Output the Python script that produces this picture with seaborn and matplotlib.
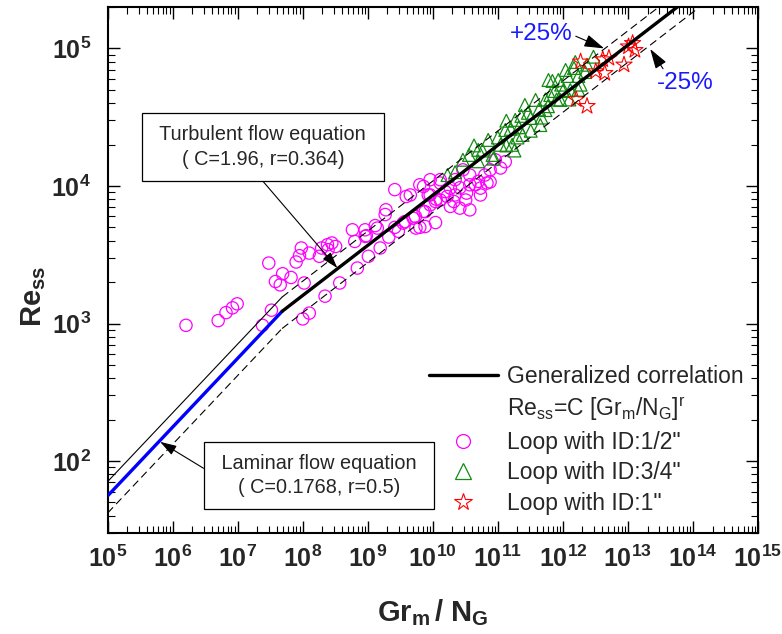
import numpy as np
import pandas as pd
import matplotlib
matplotlib.use("Agg")
import matplotlib.pyplot as plt
import seaborn as sns
from matplotlib.lines import Line2D
from matplotlib.ticker import LogLocator, NullFormatter

# ---- values ----
# Loop with ID 1/2" (magenta circles)
gr_half = [1.6e6, 5.0e6, 6.6e6, 8.3e6, 9.8e6, 3.0e7, 2.4e7, 3.3e7, 3.8e7, 4.5e7,
           4.9e7, 6.6e7, 7.9e7, 8.9e7, 9.5e7, 1.05e8, 1.0e8, 1.26e8, 1.26e8, 1.8e8,
           1.95e8, 2.4e8, 2.8e8, 3.2e8, 2.45e8, 2.2e8, 3.7e8, 5.8e8, 6.9e8, 9.1e8,
           9.5e8, 1.02e9, 1.4e9, 1.55e9, 1.9e9, 2.1e9, 2.95e9, 3.5e9, 3.9e9, 5.0e9,
           5.5e9, 7.1e9, 7.2e9, 7.6e9, 8.5e9, 9.1e9, 1.1e10, 1.12e10, 1.3e10, 1.66e10,
           1.86e10, 2.1e10, 2.6e10, 3.3e10, 3.7e10, 5.0e10, 5.4e10, 6.8e10, 7.6e10,
           2.6e9, 4.5e9, 6.3e9, 9.1e9, 1.3e10, 1.55e10, 2.2e10, 2.6e10, 3.2e10, 4.5e10,
           6.3e10, 9.1e10, 1.1e11, 1.3e11, 7.6e10, 3.7e10, 1.86e10, 1.1e10, 7.6e9, 5.4e9,
           3.7e9, 2.6e9, 1.85e9, 1.3e9, 9.1e8, 6.3e8, 6.3e9, 9.1e9, 1.3e10, 2.2e10,
           2.9e10, 5.4e10, 3.7e10]
re_half = [970, 1050, 1200, 1300, 1390, 2750, 970, 1250, 2020, 1910,
           2300, 2160, 2800, 3110, 3540, 1970, 1080, 1190, 3250, 3080,
           3540, 3740, 3850, 3630, 3440, 1580, 1970, 4800, 2530, 4800,
           4350, 3080, 4940, 3540, 6710, 4250, 4680, 5370, 8380, 5830,
           4940, 6520, 9910, 5070, 8610, 7290, 5420, 8020, 10500, 8380,
           9640, 7710, 6900, 8870, 10200, 10800, 9640, 10500, 13100,
           9400, 8600, 10200, 11100, 11100, 9100, 8600, 9700, 7900, 10200,
           12000, 15500, 13500, 15000, 10700, 12000, 7100, 7700, 6500, 6000,
           5500, 5000, 6200, 5150, 4300, 3950, 5000, 8600, 7900, 11100,
           13100, 8600, 6700]

# Loop with ID 3/4" (green triangles)
gr_three_q = [1.68e10, 3.6e10, 4.3e10, 5.8e10, 8.5e10, 1.0e11, 1.35e11, 1.58e11, 2.0e11,
              1.35e11, 2.1e11, 3.2e11, 2.9e11, 4.3e11, 5.4e11, 7.5e11, 6.9e11, 9.4e11,
              1.18e12, 1.48e12, 1.73e12, 1.87e12, 2.35e12, 2.95e12, 8.0e11, 4.7e11,
              2.3e11, 1.73e12, 1.0e12, 1.26e12, 5.9e11, 1.8e11, 5.0e10,
              2.2e10, 2.9e10, 5.0e10, 7.1e10, 1.1e11, 1.3e11, 1.85e11, 2.4e11, 3.2e11,
              3.8e11, 5.4e11, 6.4e11, 8.5e11, 1.1e12, 1.3e12, 1.55e12, 2.2e12, 4.5e11,
              2.6e11, 1.66e11, 8.3e10, 9.1e11, 6.0e11]
re_three_q = [1.2e4, 1.68e4, 1.97e4, 1.81e4, 1.58e4, 2.25e4, 1.97e4, 2.6e4, 2.25e4,
              2.98e4, 2.67e4, 2.52e4, 3.4e4, 3.6e4, 4.25e4, 4.9e4, 5.8e4, 5.45e4,
              6.3e4, 7.2e4, 6.3e4, 5.45e4, 7.6e4, 8.7e4, 4.25e4, 3.14e4,
              3.23e4, 5.0e4, 4.9e4, 4.25e4, 3.8e4, 1.81e4, 1.51e4,
              1.26e4, 1.55e4, 1.83e4, 2.16e4, 1.99e4, 2.55e4, 3.02e4, 2.35e4, 3.12e4,
              4.22e4, 3.56e4, 4.58e4, 5.89e4, 6.97e4, 4.98e4, 7.96e4, 6.73e4, 2.77e4,
              3.88e4, 1.99e4, 1.68e4, 4.22e4, 5.89e4]

# Loop with ID 1" (red stars)
gr_one = [1.87e12, 4.1e12, 5.1e12, 3.2e12, 4.4e12, 1.6e12, 2.35e12, 8.7e12, 1.02e13,
          1.18e13, 1.28e13]
re_one = [8.0e4, 8.3e4, 8.5e4, 6.8e4, 6.6e4, 4.25e4, 3.8e4, 7.6e4, 1.03e5,
          1.09e5, 9.7e4]

# correlation constants shown on the chart
C_lam, r_lam = 0.1768, 0.5
C_turb, r_turb = 1.96, 0.364
band_hi, band_lo = 1.27, 0.75

x_exps = list(range(5, 16))
y_exps = [2, 3, 4, 5]

sns.set_theme(style="ticks")
plt.rcParams["font.family"] = ["Liberation Sans", "DejaVu Sans"]
plt.rcParams["mathtext.fontset"] = "custom"
plt.rcParams["mathtext.rm"] = "Liberation Sans"
plt.rcParams["mathtext.it"] = "Liberation Sans:italic"
plt.rcParams["mathtext.bf"] = "Liberation Sans:bold"

fig = plt.figure(figsize=(7.82, 6.34), dpi=100)
ax = fig.add_axes([0.1377, 0.1593, 0.8316, 0.8297])
ax.set_xscale("log")
ax.set_yscale("log")

# correlation lines
x_lo, x_hi = 1e5, 1e15
x_t = (C_turb / C_lam) ** (1.0 / (r_lam - r_turb))
lam_x = np.array([x_lo, x_t])
turb_x = np.array([x_t, x_hi])
lam_y = C_lam * lam_x ** r_lam
turb_y = C_turb * turb_x ** r_turb

line_kw = dict(ax=ax, estimator=None, sort=False, zorder=4)
dash = (0, (7, 4))
sns.lineplot(x=lam_x, y=lam_y * band_hi, color="black", lw=0.8, **line_kw)
sns.lineplot(x=lam_x, y=lam_y * band_lo, color="black", lw=0.8, linestyle=dash, **line_kw)
sns.lineplot(x=turb_x, y=turb_y * band_hi, color="black", lw=0.8, linestyle=dash, **line_kw)
sns.lineplot(x=turb_x, y=turb_y * band_lo, color="black", lw=0.8, linestyle=dash, **line_kw)
sns.lineplot(x=lam_x, y=lam_y, color="#0000ff", lw=2.4, **line_kw)
sns.lineplot(x=turb_x, y=turb_y, color="black", lw=2.4, **line_kw)

# data points
sns.scatterplot(x=gr_half, y=re_half, ax=ax, marker="o", s=78,
                facecolor="none", edgecolor="#ff00ff", linewidth=0.9, zorder=3)
sns.scatterplot(x=gr_three_q, y=re_three_q, ax=ax, marker="^", s=85,
                facecolor="none", edgecolor="#138a13", linewidth=0.9, zorder=3)
sns.scatterplot(x=gr_one, y=re_one, ax=ax, marker="*", s=150,
                facecolor="none", edgecolor="#ff0000", linewidth=0.8, zorder=3)

ax.set_xlim(1e5, 1e15)
ax.set_ylim(30, 2e5)

ax.set_xticks([10.0 ** k for k in x_exps],
              [rf"$\mathbf{{10^{{{k}}}}}$" for k in x_exps], fontsize=18)
ax.set_yticks([10.0 ** k for k in y_exps],
              [rf"$\mathbf{{10^{{{k}}}}}$" for k in y_exps], fontsize=18)
ax.xaxis.set_minor_locator(LogLocator(base=10, subs=np.arange(2, 10), numticks=100))
ax.yaxis.set_minor_locator(LogLocator(base=10, subs=np.arange(2, 10), numticks=100))
ax.xaxis.set_minor_formatter(NullFormatter())
ax.yaxis.set_minor_formatter(NullFormatter())
ax.tick_params(which="both", direction="in", top=True, right=True, color="black")
ax.tick_params(which="major", length=8.5, width=1.0)
ax.tick_params(axis="x", which="major", pad=9)
ax.tick_params(axis="y", which="major", pad=12)
ax.tick_params(which="minor", length=4.8, width=0.8)
for sp in ax.spines.values():
    sp.set_linewidth(1.5)
    sp.set_color("black")

ax.set_xlabel(r"$\mathbf{Gr_{m}\,/\ N_{G}}$", fontsize=21)
ax.set_ylabel(r"$\mathbf{Re_{ss}}$", fontsize=21)
ax.xaxis.set_label_coords(0.5, -0.122)
ax.yaxis.set_label_coords(-0.092, 0.449)

# annotations
arrow_kw = dict(arrowstyle="-|>,head_length=0.7,head_width=0.22", color="black",
                lw=0.8, shrinkA=0, shrinkB=0)
box_kw = dict(boxstyle="square,pad=0.6", fc="white", ec="black", lw=0.9)
ax.annotate(" Turbulent flow equation \n( C=1.96, r=0.364)", xy=(3.4e8, 2530),
            xytext=(0.2388, 0.7338), textcoords="axes fraction", ha="center",
            va="center", fontsize=14.3, linespacing=1.35, bbox=box_kw,
            arrowprops=dict(relpos=(0.45, 0.0), **arrow_kw), zorder=6)
ax.annotate(" Laminar flow equation \n( C=0.1768, r=0.5)", xy=(6.4e5, 138),
            xytext=(0.3249, 0.1093), textcoords="axes fraction", ha="center",
            va="center", fontsize=14.3, linespacing=1.35, bbox=box_kw,
            arrowprops=dict(relpos=(-0.03, 0.58), **arrow_kw), zorder=6)
ax.annotate("+25%", xy=(4.3e12, 1.0e5), xytext=(0.6665, 0.9487),
            textcoords="axes fraction", ha="center", va="center", fontsize=17.5,
            color="#1a1aff", arrowprops=dict(relpos=(1.05, 0.4), **arrow_kw))
ax.annotate("-25%", xy=(2.2e13, 9.9e4), xytext=(0.8878, 0.8555),
            textcoords="axes fraction", ha="center", va="center", fontsize=17.5,
            color="#1a1aff", arrowprops=dict(relpos=(0.15, 1.0), **arrow_kw))

# legend
handles = [
    Line2D([], [], color="black", lw=2.4),
    Line2D([], [], color="none"),
    Line2D([], [], ls="none", marker="o", ms=10, mfc="none", mec="#ff00ff", mew=0.9),
    Line2D([], [], ls="none", marker="^", ms=11, mfc="none", mec="#138a13", mew=0.9),
    Line2D([], [], ls="none", marker="*", ms=13, mfc="none", mec="#ff0000", mew=0.8),
]
labels = [
    "Generalized correlation",
    r"Re$_{\mathregular{ss}}$=C [Gr$_{\mathregular{m}}$/N$_{\mathregular{G}}$]$^{\mathregular{r}}$",
    'Loop with ID:1/2"',
    'Loop with ID:3/4"',
    'Loop with ID:1"',
]
ax.legend(handles, labels, loc="upper left", bbox_to_anchor=(0.494, 0.32),
          frameon=False, fontsize=16.5, handlelength=3.0, handletextpad=0.4,
          labelspacing=0.33, borderpad=0, borderaxespad=0)

fig.savefig("out.png", dpi=100)
